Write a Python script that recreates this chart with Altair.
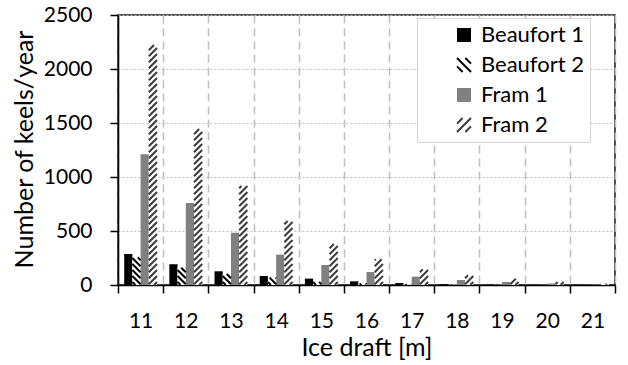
import altair as alt
import pandas as pd

# Keel counts per ice-draft class
drafts = ["11", "12", "13", "14", "15", "16", "17", "18", "19", "20", "21"]
series = ["Beaufort 1", "Beaufort 2", "Fram 1", "Fram 2"]
beaufort1 = [287, 191, 127, 83, 59, 34, 18, 8, 3, 1, 0.5]
beaufort2 = [256, 160, 102, 68, 28, 15, 8, 4, 2, 1, 0.5]
fram1 = [1210, 759, 484, 281, 185, 120, 77, 46, 28, 14, 5]
fram2 = [2222, 1444, 917, 593, 380, 238, 145, 90, 58, 28, 10]
y_ticks = [0, 500, 1000, 1500, 2000, 2500]

FONT = "Lato"
W, H = 497, 270
YMAX = 2500

values = {"Beaufort 1": beaufort1, "Beaufort 2": beaufort2, "Fram 1": fram1, "Fram 2": fram2}
bars = pd.DataFrame(
    [{"draft": d, "series": s, "count": values[s][i]} for s in series for i, d in enumerate(drafts)]
)

# Diagonal hatching for the patterned series, clipped to each bar's rectangle.
band_px = W / len(drafts)
slot_px = band_px / 5.5          # 4 bar slots plus 0.75 slot of padding on each side
px_per_unit = H / YMAX
pitch = 6.0


def hatch(vals, slot, rising, ink):
    rows = []
    for i, v in enumerate(vals):
        h = v * px_per_unit
        left = i * band_px + (0.75 + slot) * slot_px
        w = slot_px
        if rising:
            c = -w + pitch / 2
            while c < h:
                u0, u1 = max(0.0, -c), min(w, h - c)
                if u1 > u0:
                    rows.append((left + u0, c + u0, left + u1, c + u1))
                c += pitch
        else:
            c = pitch / 2
            while c < h + w:
                u0, u1 = max(0.0, c - h), min(w, c)
                if u1 > u0:
                    rows.append((left + u0, c - u0, left + u1, c - u1))
                c += pitch
    return pd.DataFrame(
        [
            {"xa": xa / band_px, "ya": ya / px_per_unit, "xb": xb / band_px, "yb": yb / px_per_unit, "ink": ink}
            for xa, ya, xb, yb in rows
        ]
    )


stripes = pd.concat(
    [hatch(beaufort2, 1, False, "#000000"), hatch(fram2, 3, True, "#3c3c3c")], ignore_index=True
)

y_axis = alt.Axis(
    values=y_ticks,
    format="d",
    title="Number of keels/year",
    titleX=-86,
    titleY=134,
    titleBaseline="alphabetic",
    titleFontSize=25,
    titleFontWeight="normal",
    titleColor="black",
    labelFontSize=21,
    labelColor="black",
    labelPadding=18,
    tickSize=8,
    tickWidth=1.5,
    tickColor="black",
    domainColor="black",
    domainWidth=1.5,
    gridColor="#bdbdbd",
    gridDash=[2, 2],
    gridWidth=1,
)
y_scale = alt.Scale(domain=[0, YMAX], nice=False)

shape_expr = (
    "datum.value === 'Beaufort 2' ? 'M-1,-1L1,1M-1,0.2L-0.2,1M0.2,-1L1,-0.2' : "
    "datum.value === 'Fram 2' ? 'M-1,1L1,-1M0.2,1L1,0.2M-1,-0.2L-0.2,-1' : 'square'"
)
stroke_expr = (
    "datum.value === 'Beaufort 2' ? '#000000' : datum.value === 'Fram 2' ? '#3c3c3c' : 'transparent'"
)

legend = alt.Legend(
    title=None,
    orient="none",
    legendX=299,
    legendY=3,
    fillColor="white",
    strokeColor="#d4d4d4",
    padding=6,
    rowPadding=8,
    symbolSize=196,
    symbolOffset=30,
    symbolType={"expr": shape_expr},
    symbolStrokeColor={"expr": stroke_expr},
    symbolStrokeWidth=2,
    labelOffset=6,
    labelFont=FONT,
    labelFontSize=22,
    labelColor="black",
    labelExpr="datum.label + '        '",
)

bar_layer = alt.Chart(bars).mark_bar(strokeWidth=0).encode(
    x=alt.X(
        "draft:N",
        sort=drafts,
        scale=alt.Scale(paddingInner=0, paddingOuter=0),
        axis=alt.Axis(
            title="Ice draft [m]",
            titleY=70,
            titleBaseline="alphabetic",
            titleFontSize=25,
            titleFontWeight="normal",
            titleColor="black",
            labelAngle=0,
            labelFontSize=21,
            labelColor="black",
            labelPadding=17,
            tickBand="extent",
            tickSize=8,
            tickWidth=1.5,
            tickColor="black",
            domainColor="black",
            domainWidth=1.5,
            grid=True,
            gridColor="#bfbfbf",
            gridDash=[8, 5],
            gridWidth=1.5,
        ),
    ),
    xOffset=alt.XOffset("series:N", sort=series, scale=alt.Scale(paddingInner=0, paddingOuter=0.75)),
    y=alt.Y("count:Q", scale=y_scale, axis=y_axis),
    color=alt.Color(
        "series:N",
        sort=series,
        scale=alt.Scale(domain=series, range=["#000000", "#ffffff", "#808080", "#ffffff"]),
        legend=legend,
    ),
)

hatch_layer = alt.Chart(stripes).mark_rule(strokeWidth=2, strokeCap="butt").encode(
    x=alt.X("xa:Q", scale=alt.Scale(domain=[0, len(drafts)], nice=False, zero=False), axis=None),
    x2="xb:Q",
    y=alt.Y("ya:Q", scale=y_scale, axis=y_axis),
    y2="yb:Q",
    stroke=alt.Stroke("ink:N", scale=None),
)

chart = (
    alt.layer(bar_layer, hatch_layer)
    .resolve_scale(x="independent")
    .properties(
        width=W,
        height=H,
        autosize=alt.AutoSizeParams(type="none"),
        padding={"left": 118, "top": 15, "right": 13, "bottom": 80},
        background="white",
    )
    .configure(font=FONT)
    .configure_view(stroke="#1a1a1a", strokeWidth=1.5)
)

chart.save("out.html", embed_options={"renderer": "svg", "actions": False})
